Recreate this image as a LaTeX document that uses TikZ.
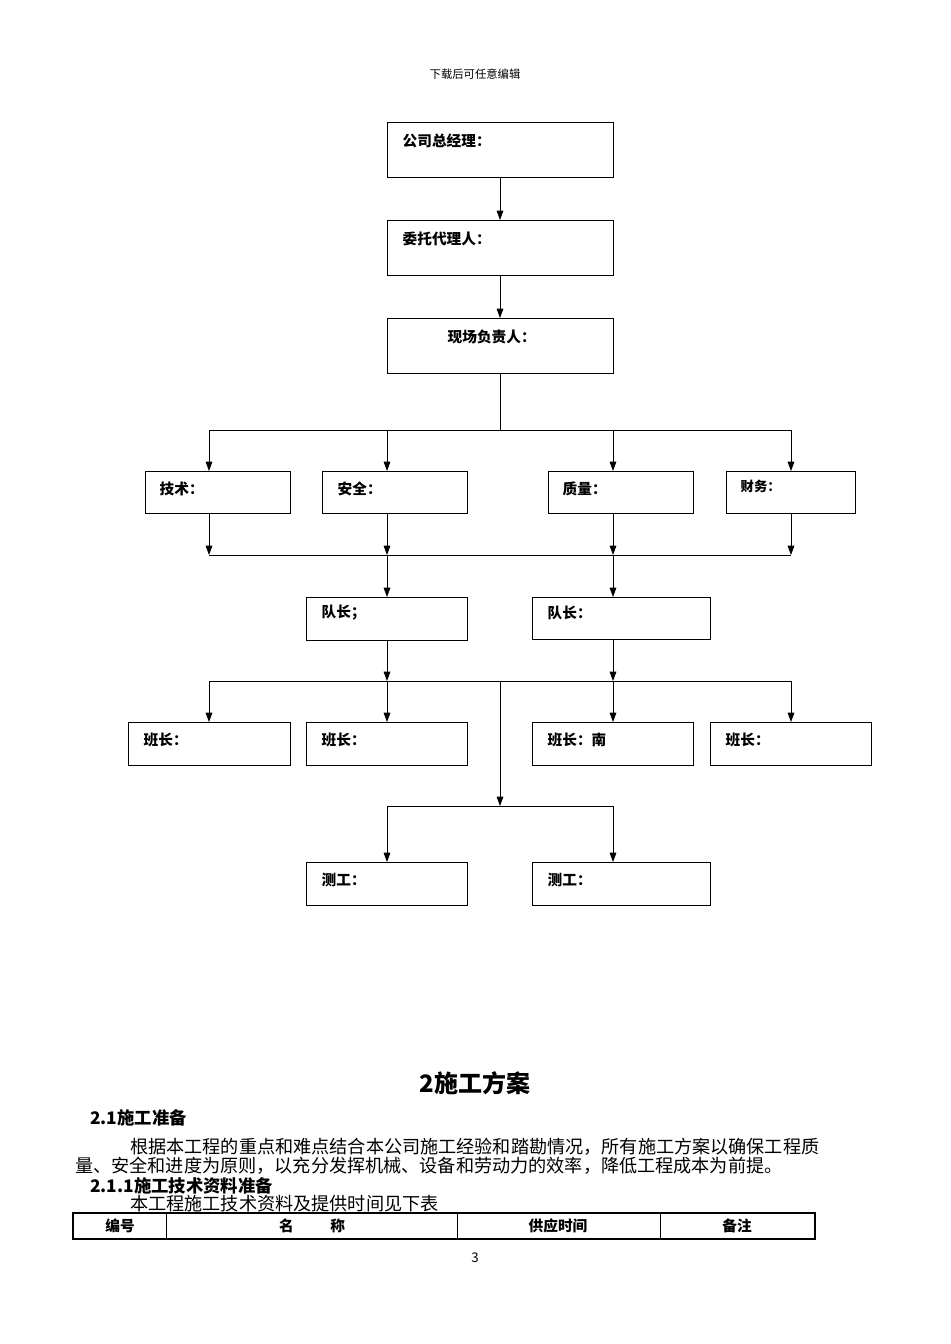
\documentclass[tikz,border=0pt]{standalone}
\usepackage{fontspec}
\setmainfont{Noto Sans CJK SC}
\usetikzlibrary{arrows.meta}
\begin{document}
\begin{tikzpicture}[x=0.75pt,y=-0.75pt,
  box/.style 2 args={draw,semithick,minimum width={#1*0.75pt},minimum height={#2*0.75pt},anchor=north west,inner sep=0,outer sep=0},
  lbl/.style={anchor=west,font=\fontsize{11}{13}\selectfont\bfseries},
  arr/.style={-{Triangle[length=7pt,width=5pt]},semithick},
  ln/.style={semithick},
  txt/.style={anchor=west,font=\fontsize{13.6}{15}\selectfont,inner sep=0}]
\useasboundingbox (0,0) rectangle (950,1344);
\node[font=\fontsize{8.5}{10}\selectfont] (hd) at (475,74) {下载后可任意编辑};
% top boxes
\node[box={226}{55}] (b1) at (387,122) {}; \node[lbl] at (398,141) {公司总经理：};
\node[box={226}{55}] (b2) at (387,220) {}; \node[lbl] at (398,239) {委托代理人：};
\node[box={226}{55}] (b3) at (387,318) {}; \node[lbl] at (443,337) {现场负责人：};
\draw[arr] (b1.south) -- (b2.north);
\draw[arr] (b2.south) -- (b3.north);
\coordinate (h1) at (500,430);
\draw[ln] (b3.south) -- (h1);
\draw[ln] (209,430) -- (791,430);
\node[box={145}{42}] (js) at (145,471) {}; \node[lbl] at (155,489) {技术：};
\node[box={145}{42}] (aq) at (322,471) {}; \node[lbl] at (333,489) {安全：};
\node[box={145}{42}] (zl) at (548,471) {}; \node[lbl] at (558,489) {质量：};
\node[box={129}{42}] (cw) at (726,471) {}; \node[lbl,font=\fontsize{10}{12}\selectfont\bfseries] at (736,486) {财务：};
\foreach \x in {209,387,613,791}{\coordinate (t\x) at (\x,430); \coordinate (u\x) at (\x,471);
  \draw[arr] (t\x) -- (u\x);
  \coordinate (p\x) at (\x,513); \coordinate (q\x) at (\x,555); \draw[arr] (p\x) -- (q\x);}
\draw[ln] (209,555) -- (791,555);
\node[box={161}{43}] (d1) at (306,597) {}; \node[lbl] at (317,613) {队长；};
\node[box={178}{42}] (d2) at (532,597) {}; \node[lbl] at (543,613) {队长：};
\coordinate (d1t) at (387,597); \coordinate (d2t) at (613,597);
\draw[arr] (q387) -- (d1t); \draw[arr] (q613) -- (d2t);
\coordinate (h3) at (500,681);
\coordinate (d1b) at (387,681); \coordinate (d2b) at (613,681);
\draw[arr] (d1.south -| d1b) -- (d1b);
\draw[arr] (d2.south -| d2b) -- (d2b);
\draw[ln] (209,681) -- (791,681);
\node[box={162}{43}] (c1) at (128,722) {}; \node[lbl] at (139,740) {班长：};
\node[box={161}{43}] (c2) at (306,722) {}; \node[lbl] at (317,740) {班长：};
\node[box={161}{43}] (c3) at (532,722) {}; \node[lbl] at (543,740) {班长：南};
\node[box={161}{43}] (c4) at (710,722) {}; \node[lbl] at (721,740) {班长：};
\foreach \x in {209,387,613,791}{\coordinate (v\x) at (\x,681); \coordinate (w\x) at (\x,722); \draw[arr] (v\x) -- (w\x);}
\coordinate (m1) at (500,806);
\draw[arr] (h3) -- (m1);
\draw[ln] (387,806) -- (613,806);
\node[box={161}{43}] (e1) at (306,862) {}; \node[lbl] at (317,880) {测工：};
\node[box={178}{43}] (e2) at (532,862) {}; \node[lbl] at (543,880) {测工：};
\coordinate (f1) at (387,806); \coordinate (f2) at (613,806);
\draw[arr] (f1) -- (e1.north -| f1);
\draw[arr] (f2) -- (e2.north -| f2);
% text
\node[font=\fontsize{18}{20}\selectfont\bfseries] (ti) at (475,1083) {2施工方案};
\node[txt,font=\fontsize{13}{15}\selectfont\bfseries] (s1) at (90,1118) {2.1施工准备};
\node[txt] (p1) at (130,1147) {根据本工程的重点和难点结合本公司施工经验和踏勘情况，所有施工方案以确保工程质};
\node[txt] (p2) at (75,1166) {量、安全和进度为原则，以充分发挥机械、设备和劳动力的效率，降低工程成本为前提。};
\node[txt,font=\fontsize{13}{15}\selectfont\bfseries] (s2) at (90,1186) {2.1.1施工技术资料准备};
\node[txt] (p3) at (130,1204) {本工程施工技术资料及提供时间见下表};
\draw[line width=1.2pt] (73,1213) rectangle (815,1239);
\foreach \x in {166,457,660}{\draw[thin] (\x,1213) -- (\x,1239);}
\node[font=\fontsize{11}{13}\selectfont\bfseries] (k1) at (120,1226) {编号};
\node[font=\fontsize{11}{13}\selectfont\bfseries] (k2) at (312,1226) {名\hspace{2.5em}称};
\node[font=\fontsize{11}{13}\selectfont\bfseries] (k3) at (558,1226) {供应时间};
\node[font=\fontsize{11}{13}\selectfont\bfseries] (k4) at (737,1226) {备注};
\node[font=\fontsize{10}{12}\selectfont] (pg) at (475,1258) {3};
\end{tikzpicture}
\end{document}
